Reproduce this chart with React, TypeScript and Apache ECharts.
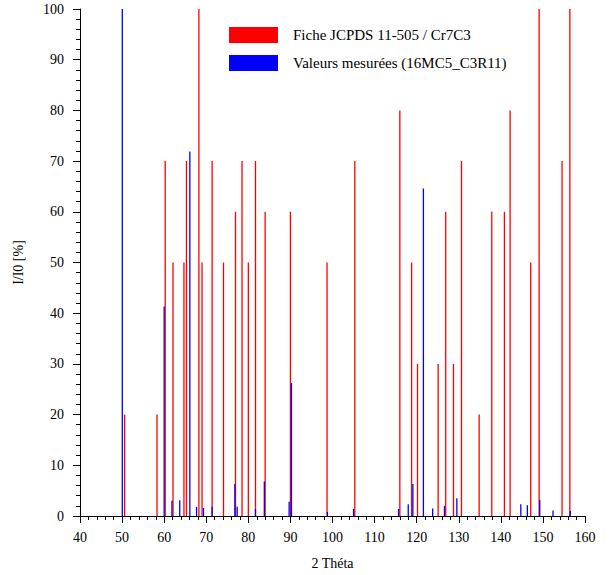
import React, { useEffect, useRef } from "react";
import * as echarts from "echarts";

const jcpdsName = "Fiche JCPDS 11-505 / Cr7C3";
const measuredName = "Valeurs mesurées (16MC5_C3R11)";

const jcpdsTheta = [50.6, 58.3, 60.25, 62.1, 64.7, 65.3, 68.25, 69.0, 71.4, 74.1, 76.95, 78.5, 80.0, 81.7, 84.0, 90.0, 98.7, 105.3, 116.0, 118.8, 120.2, 125.1, 126.9, 128.75, 130.65, 134.85, 137.85, 140.85, 142.2, 147.1, 149.1, 154.55, 156.4];
const jcpdsIntensity = [20, 20, 70, 50, 50, 70, 100, 50, 70, 50, 60, 70, 50, 70, 60, 60, 50, 70, 80, 50, 30, 30, 60, 30, 70, 20, 60, 60, 80, 50, 100, 70, 100];

const measuredTheta = [50.05, 60.0, 61.85, 63.7, 66.1, 67.7, 69.35, 71.4, 76.8, 77.35, 81.7, 83.8, 89.7, 90.25, 98.8, 105.0, 115.7, 118.0, 119.1, 121.6, 123.8, 126.6, 129.55, 144.75, 146.3, 149.25, 152.4, 156.5];
const measuredIntensity = [100, 41.3, 3.0, 3.1, 71.9, 1.8, 1.6, 1.8, 6.3, 1.8, 1.4, 6.8, 2.8, 26.2, 0.8, 1.4, 1.4, 2.3, 6.3, 64.6, 1.5, 2.0, 3.5, 2.3, 2.1, 3.2, 1.1, 1.0];

const FONT = "Liberation Serif, Times New Roman, serif";

function stickSeries(name: string, xs: number[], ys: number[], color: string) {
  return {
    name,
    type: "custom",
    itemStyle: { color },
    data: xs.map((x, i) => [x, ys[i]]),
    renderItem: (_params: any, api: any) => {
      const x = api.value(0);
      const y = api.value(1);
      const p0 = api.coord([x, 0]);
      const p1 = api.coord([x, y]);
      return {
        type: "line",
        shape: { x1: p0[0], y1: p0[1], x2: p1[0], y2: p1[1] },
        style: { stroke: color, lineWidth: 1.3 },
      };
    },
  };
}

export default function App() {
  const ref = useRef<HTMLDivElement>(null);
  useEffect(() => {
    document.body.style.margin = "0";
    const chart = echarts.init(ref.current!, null, { renderer: "svg" });
    const axisCommon = {
      axisLine: { show: true, lineStyle: { color: "#000", width: 1 } },
      axisTick: { show: true, inside: false, length: 7, lineStyle: { color: "#000" } },
      minorTick: { show: true, splitNumber: 5, length: 4, lineStyle: { color: "#000" } },
      splitLine: { show: false },
      nameTextStyle: { color: "#000", fontFamily: FONT, fontSize: 14 },
    };
    chart.setOption({
      animation: false,
      backgroundColor: "#fff",
      textStyle: { fontFamily: FONT },
      grid: { left: 80, right: 27, top: 9, bottom: 59 },
      legend: {
        orient: "vertical",
        left: 224,
        top: 22,
        itemWidth: 49,
        itemHeight: 16,
        itemGap: 12,
        icon: "rect",
        data: [jcpdsName, measuredName],
        textStyle: { color: "#000", fontFamily: FONT, fontSize: 15, padding: [0, 0, 0, 10] },
      },
      xAxis: {
        type: "value",
        min: 40,
        max: 160,
        interval: 10,
        name: "2 Théta",
        nameLocation: "middle",
        nameGap: 40,
        ...axisCommon,
        axisLabel: { color: "#000", fontFamily: FONT, fontSize: 14, margin: 14 },
      },
      yAxis: {
        type: "value",
        min: 0,
        max: 100,
        interval: 10,
        name: "I/I0 [%]",
        nameLocation: "middle",
        nameGap: 55,
        nameRotate: 90,
        ...axisCommon,
        axisLabel: { color: "#000", fontFamily: FONT, fontSize: 14, margin: 16 },
      },
      series: [
        stickSeries(jcpdsName, jcpdsTheta, jcpdsIntensity, "#ff0000"),
        stickSeries(measuredName, measuredTheta, measuredIntensity, "#0000ff"),
      ],
    });
    return () => chart.dispose();
  }, []);
  return <div ref={ref} style={{ width: 612, height: 575 }} />;
}
